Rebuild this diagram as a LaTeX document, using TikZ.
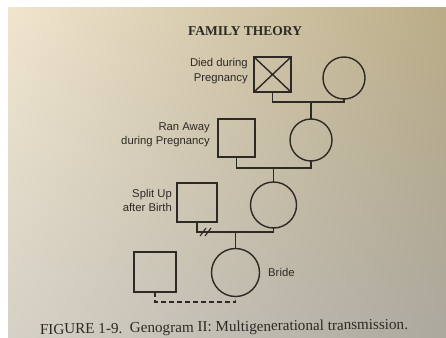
\documentclass[tikz,border=0pt]{standalone}
\usepackage{fontspec}
\usepackage{graphicx}
\setmainfont{Liberation Serif}
\newfontfamily\labelfont{Liberation Sans}
\usetikzlibrary{calc,shadings}
\definecolor{ink}{RGB}{45,41,36}
\definecolor{paperA}{RGB}{240,229,206}
\definecolor{paperB}{RGB}{186,172,134}
\definecolor{paperC}{RGB}{214,209,198}
\definecolor{paperD}{RGB}{172,168,158}
\tikzset{
  x=1pt, y=-1pt,
  line/.style={draw=ink, line width=1.4pt},
  male/.style={line, rectangle, inner sep=0pt, outer sep=0pt},
  female/.style={line, circle, inner sep=0pt, outer sep=0pt},
  lbl/.style={font=\labelfont\fontsize{11.3}{14.5}\selectfont, text=ink, align=right, inner sep=0pt},
  tie/.style={line, line cap=rect},
  linkdash/.style={line, dash pattern=on 5pt off 3pt},
}
\begin{document}
\begin{tikzpicture}
% page of the book
\useasboundingbox (0,0) rectangle (446,337);
\fill[white] (0,0) rectangle (446,337);
\shade[upper left=paperA, upper right=paperB, lower left=paperC, lower right=paperD]
  (8,8) rectangle (446,337);

% running head
\node[text=ink] (head) at (245,31)
  {\resizebox{114pt}{!}{\bfseries FAMILY THEORY}};

% first generation
\node[male, minimum width=37pt, minimum height=35pt] (d1) at (272.5,74.5) {};
\draw[line] (d1.north west) -- (d1.south east) (d1.north east) -- (d1.south west);
\node[female, minimum size=42pt] (c1) at (344,78) {};
\node[lbl, anchor=east] (t1) at (248,71) {Died during\\Pregnancy};

% second generation
\node[female, minimum size=42pt] (c2) at (311,140) {};
\node[male, minimum width=37pt, minimum height=38pt] (r2) at (236.5,138) {};
\node[lbl, anchor=east] (t2) at (210,135) {Ran Away\\during Pregnancy};

% third generation
\node[female, minimum size=46pt] (c3) at (273.5,205) {};
\node[male, minimum width=40pt, minimum height=39pt] (s3) at (197,202.5) {};
\node[lbl, anchor=east] (t3) at (172,200.5) {Split Up\\after Birth};

% fourth generation
\node[female, minimum size=48pt] (bride) at (235.5,272.5) {};
\node[male, minimum width=42pt, minimum height=40pt] (b4) at (155,272) {};
\node[lbl, anchor=west, align=left] (t4) at (268,272) {Bride};

% marriage lines and descent lines
\path (d1.south) ++(0,10) coordinate (m1);
\draw[tie] (d1.south) -- (m1) -| (c1.south);
\draw[line] (m1 -| c2.north) -- (c2.north);

\path (r2.south) ++(0,11) coordinate (m2);
\draw[tie] (r2.south) -- (m2) -| (c2.south);
\draw[line] (m2 -| c3.north) -- (c3.north);

\path (s3.south) ++(0,10) coordinate (m3);
\draw[tie] (s3.south) -- (m3) -| (c3.south);
\draw[line] (m3 -| bride.north) -- (bride.north);
% divorce mark
\draw[line, line width=1.1pt] ($(m3)+(3,4)$) -- ++(6,-8) ($(m3)+(8,4)$) -- ++(6,-8);

% unmarried partner
\path (b4.south) ++(0,10) coordinate (m4);
\draw[linkdash] (b4.south) -- (m4) -| (bride.south);

% caption
\node[text=ink, rotate=0.8] (cap) at (224,328)
  {\resizebox{368pt}{!}{FIGURE 1-9.\ \ Genogram II: Multigenerational transmission.}};
\end{tikzpicture}
\end{document}
